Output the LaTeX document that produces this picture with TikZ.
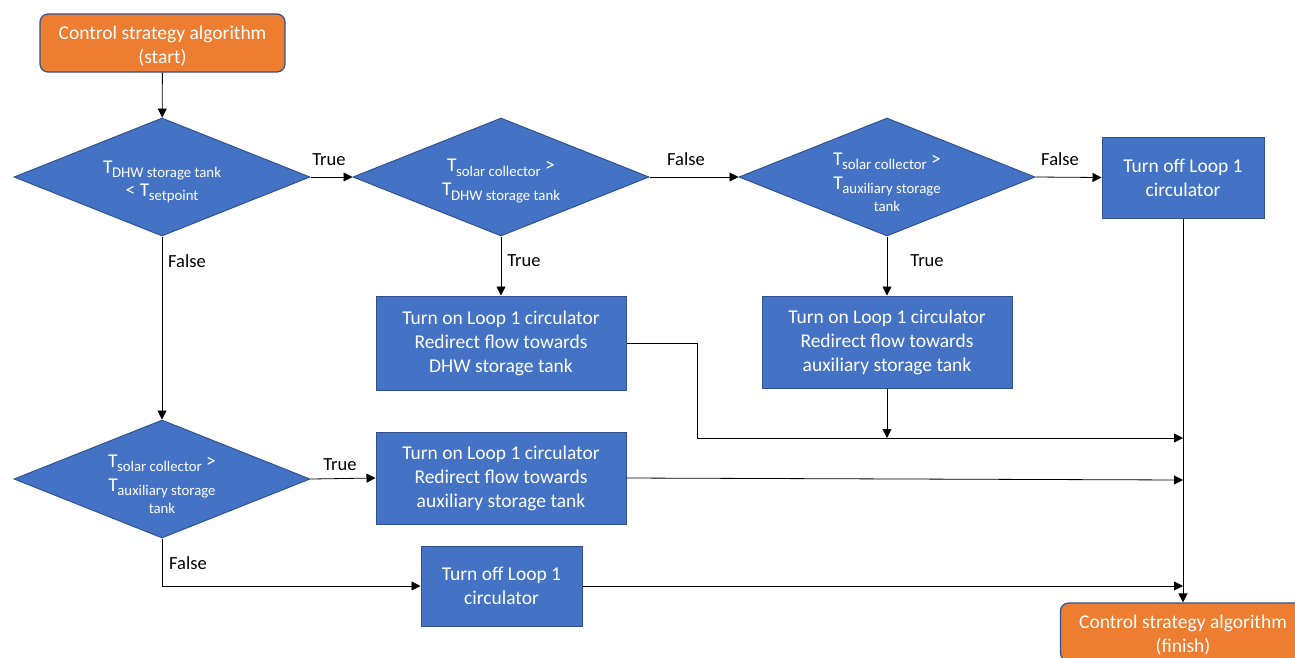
\documentclass[tikz,border=0pt]{standalone}
\usepackage{fontspec}
\setmainfont{Carlito}
\usetikzlibrary{shapes.geometric,arrows.meta}
\definecolor{bfill}{HTML}{4472C4}
\definecolor{bline}{HTML}{2F528F}
\definecolor{ofill}{HTML}{ED7D31}
\newcommand\Tsb[1]{T\kern-0.5pt\raisebox{-0.45ex}{\fontsize{14.8}{15}\selectfont #1}}
\begin{document}
\begin{tikzpicture}[x=1pt,y=-1pt,
  font=\fontsize{19.5}{24}\selectfont,
  term/.style={draw=bline,line width=1.2pt,fill=ofill,rounded corners=8pt,minimum width=245pt,minimum height=58pt,inner sep=0pt},
  proc/.style={draw=bline,line width=1pt,fill=bfill,text=white,align=center,inner sep=0pt},
  dec/.style={diamond,aspect=2.5,draw=bline,line width=1pt,fill=bfill,inner sep=0pt,minimum width=296pt,minimum height=118pt},
  txt/.style={text=white,align=center,inner sep=0pt},
  conn/.style={line width=0.8pt,-{Triangle[length=9pt,width=9pt]}},
  lab/.style={font=\fontsize{18.5}{20}\selectfont,text=black,inner sep=0pt}]
\clip (0,0) rectangle (1295,657);
% shapes
\node[term] (start) at (162.5,43) {};
\node[txt] (tstart) at (162.5,46) {Control strategy algorithm\\(start)};
\node[dec] (d1) at (162,177) {};
\node[txt] (td1) at (162,182) {\Tsb{DHW storage tank}\\[-1pt]{}< \Tsb{setpoint}};
\node[dec] (d2) at (501,177) {};
\node[txt] (td2) at (501,181) {\Tsb{solar collector} >\\\Tsb{DHW storage tank}};
\node[dec] (d3) at (887,177) {};
\node[txt] (td3) at (887,182) {\Tsb{solar collector} >\\[0pt]\Tsb{auxiliary storage}\\[-2pt]{\fontsize{14.8}{15}\selectfont tank}};
\node[proc,minimum width=162pt,minimum height=81pt] (off1) at (1183,177.5) {Turn off Loop 1\\circulator};
\node[proc,minimum width=250pt,minimum height=94pt] (b2) at (501,343) {Turn on Loop 1 circulator\\Redirect flow towards\\DHW storage tank};
\node[proc,minimum width=250pt,minimum height=92pt] (b3) at (887,342) {Turn on Loop 1 circulator\\Redirect flow towards\\auxiliary storage tank};
\node[dec] (d4) at (162,479) {};
\node[txt] (td4) at (162,484) {\Tsb{solar collector} >\\[0pt]\Tsb{auxiliary storage}\\[-2pt]{\fontsize{14.8}{15}\selectfont tank}};
\node[proc,minimum width=250pt,minimum height=92pt] (b4) at (501,478) {Turn on Loop 1 circulator\\Redirect flow towards\\auxiliary storage tank};
\node[proc,minimum width=161pt,minimum height=80pt] (off2) at (501.5,586) {Turn off Loop 1\\circulator};
\node[term] (fin) at (1183,632) {};
\node[txt] (tfin) at (1183,635) {Control strategy algorithm\\(finish)};
% junction coordinates
\coordinate (k) at (697,438);
\coordinate (m) at (887,438);
\coordinate (j1) at (1183,438);
\coordinate (j2) at (1183,480);
\coordinate (j3) at (1183,586);
% connectors
\draw[conn] (start) -- (d1);
\draw[conn] (d1.east) -- (d2.west);
\draw[conn] (d2.east) -- (d3.west);
\draw[conn] (d3.east) -- (off1.west);
\draw[conn] (d2.south) -- (b2.north);
\draw[conn] (d3.south) -- (b3.north);
\draw[conn] (d1.south) -- (d4.north);
\draw[conn] (d4.east) -- (b4.west);
\draw[conn] (d4.south) |- (off2.west);
\draw[conn] (off1.south) -- (fin.north);
\draw[conn] (b2.east) -| (k) -- (j1);
\draw[conn] (b3.south) -- (m);
\draw[conn] (b4.east) -- (j2);
\draw[conn] (off2.east) -- (j3);
% labels
\node[lab] (l1) at (329,160) {True};
\node[lab] (l2) at (686,159) {False};
\node[lab] (l3) at (1060,159) {False};
\node[lab] (l4) at (524,261) {True};
\node[lab] (l5) at (927,261) {True};
\node[lab] (l6) at (187,261) {False};
\node[lab] (l7) at (340,465) {True};
\node[lab] (l8) at (188,563) {False};
\end{tikzpicture}
\end{document}
